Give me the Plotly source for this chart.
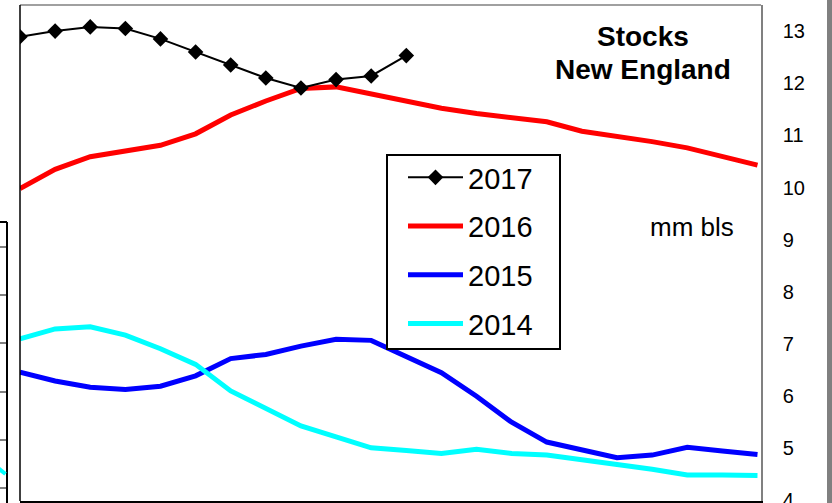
import plotly.graph_objects as go

# ---- data ----
weeks = list(range(1, 23))
y2017 = [12.89, 13.00, 13.08, 13.05, 12.85, 12.60, 12.35, 12.10, 11.91, 12.07, 12.14, 12.53]
y2016 = [9.98, 10.35, 10.59, 10.69, 10.81, 11.03, 11.39, 11.66, 11.90, 11.93, 11.80, 11.66,
         11.52, 11.42, 11.33, 11.26, 11.08, 10.99, 10.88, 10.76, 10.59, 10.43]
y2015 = [6.46, 6.29, 6.17, 6.13, 6.19, 6.39, 6.72, 6.80, 6.96, 7.09, 7.07, 6.76,
         6.45, 6.00, 5.50, 5.12, 4.97, 4.82, 4.87, 5.02, 4.95, 4.88]
y2014 = [7.10, 7.29, 7.33, 7.17, 6.91, 6.61, 6.10, 5.76, 5.43, 5.22, 5.01, 4.96,
         4.90, 4.98, 4.90, 4.87, 4.79, 4.69, 4.60, 4.49, 4.49, 4.48]
y_ticks = [4, 5, 6, 7, 8, 9, 10, 11, 12, 13]
series_names = ["2017", "2016", "2015", "2014"]

W, H = 832, 503
ML, MR, MT, MB = 20, 71, 5, 2
PW, PH = W - ML - MR, H - MT - MB


def px(x):
    return (x - ML) / PW


def py(y):
    return 1 - (y - MT) / PH


FONT = "Liberation Sans, Arial, sans-serif"

fig = go.Figure()
fig.add_trace(go.Scatter(x=weeks, y=y2015, mode="lines", name=series_names[2], legendrank=3,
                         legendgroup="c", line=dict(color="#0000FF", width=5)))
fig.add_trace(go.Scatter(x=weeks, y=y2014, mode="lines", name=series_names[3], legendrank=4,
                         legendgroup="d", line=dict(color="#00FFFF", width=5)))
fig.add_trace(go.Scatter(x=weeks, y=y2016, mode="lines", name=series_names[1], legendrank=2,
                         legendgroup="b", line=dict(color="#FF0000", width=5)))
fig.add_trace(go.Scatter(x=weeks[:len(y2017)], y=y2017, mode="lines+markers", name=series_names[0],
                         legendrank=1, legendgroup="a",
                         line=dict(color="#000000", width=2),
                         marker=dict(symbol="diamond", size=12, color="#000000")))

shapes = [
    # top (gray) and left (black) frame lines
    dict(type="line", xref="paper", yref="paper", x0=0, x1=1, y0=1, y1=1,
         line=dict(color="#808080", width=1.5)),
    dict(type="line", xref="paper", yref="paper", x0=0, x1=0, y0=0, y1=1,
         line=dict(color="#000000", width=1.5)),
    # legend frame
    dict(type="rect", xref="paper", yref="paper", layer="above",
         x0=px(387), x1=px(560), y0=py(349), y1=py(155),
         fillcolor="#FFFFFF", line=dict(color="#000000", width=2)),
    # gray bar at right edge
    dict(type="rect", xref="paper", yref="paper", x0=px(827), x1=px(833), y0=py(-2), y1=py(505),
         fillcolor="#808080", line=dict(width=0)),
    # fragment of neighbouring chart at left
    dict(type="line", xref="paper", yref="paper", x0=px(-2), x1=px(7), y0=py(222), y1=py(222),
         line=dict(color="#000000", width=2)),
    dict(type="line", xref="paper", yref="paper", x0=px(7), x1=px(7), y0=py(222), y1=py(505),
         line=dict(color="#000000", width=2)),
    dict(type="line", xref="paper", yref="paper", x0=px(-2), x1=px(5.5), y0=py(468), y1=py(474),
         line=dict(color="#00FFFF", width=4)),
]
for ty in [247, 295, 343, 392, 440, 488]:
    shapes.append(dict(type="line", xref="paper", yref="paper", x0=px(-2), x1=px(6), y0=py(ty), y1=py(ty),
                       line=dict(color="#808080", width=2)))

annotations = [
    dict(text="<b>Stocks</b>", xref="paper", yref="paper", x=px(643), y=py(37),
         xanchor="center", yanchor="middle", showarrow=False,
         font=dict(family=FONT, size=28, color="#000000")),
    dict(text="<b>New England</b>", xref="paper", yref="paper", x=px(643), y=py(69),
         xanchor="center", yanchor="middle", showarrow=False,
         font=dict(family=FONT, size=28, color="#000000")),
    dict(text="mm bls", xref="paper", yref="paper", x=px(692), y=py(227),
         xanchor="center", yanchor="middle", showarrow=False,
         font=dict(family=FONT, size=26, color="#000000")),
]

fig.update_layout(
    width=W, height=H,
    margin=dict(l=ML, r=MR, t=MT, b=MB, pad=0, autoexpand=False),
    paper_bgcolor="#FFFFFF", plot_bgcolor="#FFFFFF",
    font=dict(family=FONT, color="#000000"),
    showlegend=True,
    legend=dict(x=px(403), y=py(152), xanchor="left", yanchor="top",
                bgcolor="rgba(0,0,0,0)", borderwidth=0,
                font=dict(family=FONT, size=29, color="#000000"),
                itemwidth=55, tracegroupgap=8, traceorder="grouped"),
    xaxis=dict(range=[1, 22.1], showgrid=False, zeroline=False, showticklabels=False,
               ticks="", showline=True, linecolor="#000000", linewidth=1.5, automargin=False),
    yaxis=dict(range=[3.99, 13.5], side="right", tickvals=y_ticks, showgrid=False, zeroline=False,
               ticks="", showline=True, linecolor="#808080", linewidth=1.5,
               ticklabeloverflow="allow", automargin=False,
               ticklabelstandoff=16, tickfont=dict(family=FONT, size=20, color="#000000")),
    shapes=shapes,
    annotations=annotations,
)

fig.write_html("out.html", config={"displayModeBar": False},
               post_script="document.body.style.margin='0px';")
